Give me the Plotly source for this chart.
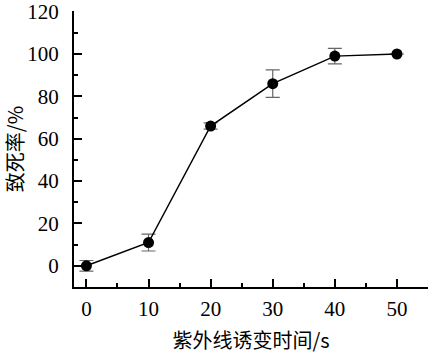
import plotly.graph_objects as go

x_time = [0, 10, 20, 30, 40, 50]
y_rate = [0, 11, 66, 86, 99, 100]
y_err = [2.5, 4, 1.5, 6.5, 3.7, 0]

x_ticks = [0, 10, 20, 30, 40, 50]
y_ticks = [0, 20, 40, 60, 80, 100, 120]

x_title = "紫外线诱变时间/s"
y_title = "致死率/%"

num_font = "Liberation Serif"
cjk_font = "Noto Sans CJK SC"

fig = go.Figure()
fig.add_trace(go.Scatter(
    x=x_time, y=y_rate,
    mode="lines+markers",
    line=dict(color="black", width=1.5),
    marker=dict(color="black", size=11, symbol="circle"),
    error_y=dict(type="data", array=y_err, visible=True,
                 color="#666666", thickness=1.2, width=7),
    showlegend=False,
    cliponaxis=False,
))

fig.update_layout(
    width=429, height=356,
    margin=dict(l=74, r=1, t=11, b=69),
    paper_bgcolor="white", plot_bgcolor="white",
    font=dict(family=num_font, size=21, color="black"),
)

fig.update_xaxes(
    range=[-2, 55],
    tickmode="array", tickvals=x_ticks, ticktext=[str(v) for v in x_ticks],
    ticks="inside", ticklen=8, tickwidth=1.5, tickcolor="black",
    minor=dict(ticks="inside", ticklen=4, tickwidth=1.5, tickcolor="black", dtick=5, tick0=0),
    showline=True, linecolor="black", linewidth=2,
    showgrid=False, zeroline=False,
    ticklabelstandoff=2,
    ticklabeloverflow="allow",
    tickfont=dict(family=num_font, size=21),
    title=dict(text=x_title, standoff=14,
               font=dict(family=cjk_font, size=20)),
    automargin=False,
)
fig.update_yaxes(
    range=[-10, 120.3],
    tickmode="array", tickvals=y_ticks, ticktext=[str(v) for v in y_ticks],
    ticks="inside", ticklen=8, tickwidth=1.5, tickcolor="black",
    minor=dict(ticks="inside", ticklen=4, tickwidth=1.5, tickcolor="black", dtick=10, tick0=10),
    showline=True, linecolor="black", linewidth=2,
    showgrid=False, zeroline=False,
    ticklabelstandoff=9,
    ticklabeloverflow="allow",
    tickfont=dict(family=num_font, size=21),
    title=dict(text=y_title, standoff=2,
               font=dict(family=cjk_font, size=20)),
    automargin=False,
)

fig.write_html("out.html",
               config={"displayModeBar": False},
               post_script="document.body.style.margin='0';document.body.style.padding='0';")
